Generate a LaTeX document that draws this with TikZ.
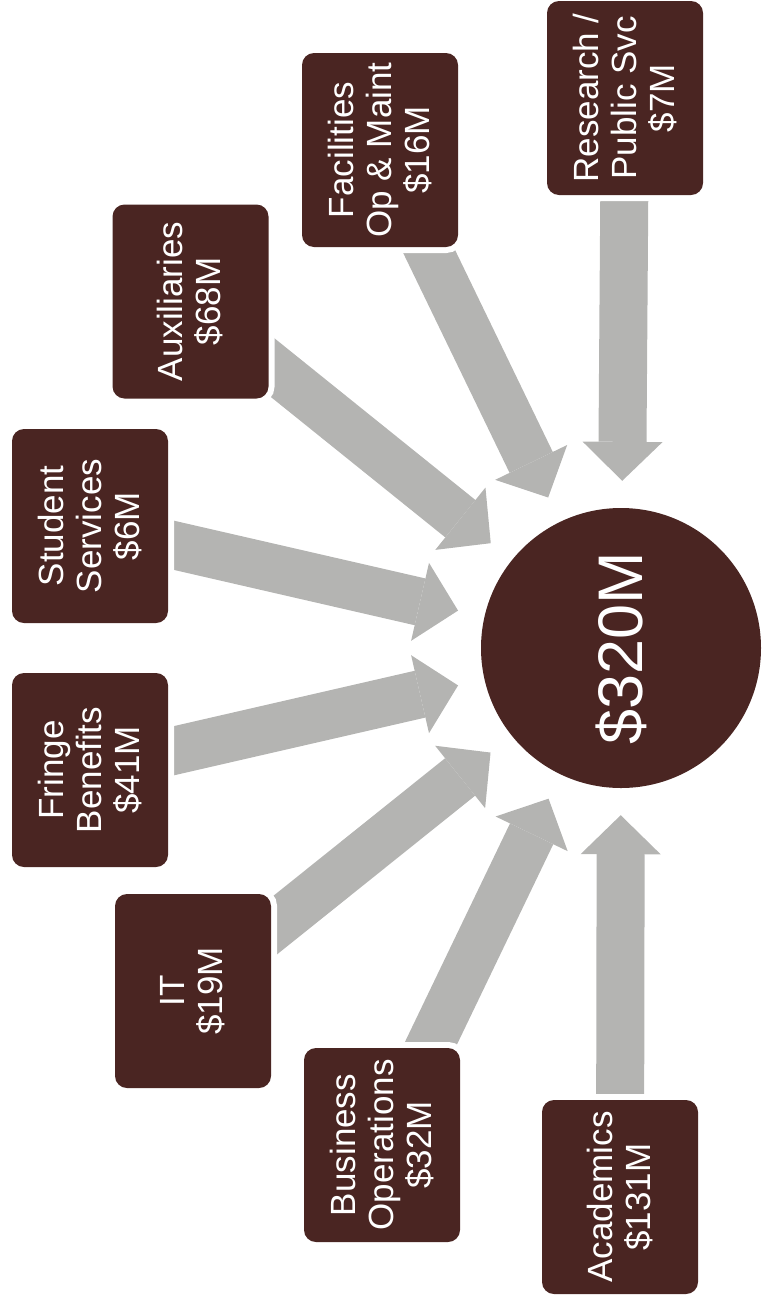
\documentclass[tikz,border=0pt]{standalone}
\usepackage{fontspec}
\setmainfont{Liberation Sans}
\usetikzlibrary{arrows.meta,backgrounds}
\definecolor{boxbrown}{RGB}{74,37,34}
\definecolor{arrowgray}{RGB}{180,180,178}
\begin{document}
\begin{tikzpicture}[x=1pt,y=-1pt,
  budget/.style={rotate=90, rectangle, rounded corners=12pt, fill=boxbrown,
    preaction={draw=white, line width=12pt},
    minimum width=194pt, minimum height=156pt, inner sep=0pt,
    text=white, align=center, font=\fontsize{35}{38}\selectfont},
  total/.style={rotate=90, circle, fill=boxbrown, minimum size=280pt, inner sep=0pt,
    text=white, font=\fontsize{63}{70}\selectfont},
  flow/.style={draw=arrowgray, line width=48pt, line cap=butt, shorten >=27pt,
    -{Triangle[width=80pt,length=39pt,line width=0pt]}}
]
\useasboundingbox (0,0) rectangle (762,1304);

\node[total] (circ) at (621,648) {\$320M};

\node[budget] (res) at (625,98)    {Research /\\Public Svc\\\$7M};
\node[budget] (fac) at (380,150)   {Facilities\\Op \& Maint\\\$16M};
\node[budget] (aux) at (190.5,301.5) {Auxiliaries\\\$68M};
\node[budget] (stu) at (90,526)    {Student\\Services\\\$6M};
\node[budget] (fri) at (90,770)    {Fringe\\Benefits\\\$41M};
\node[budget] (it)  at (193,991)   {IT\\\$19M};
\node[budget] (bus) at (382,1145)  {Business\\Operations\\\$32M};
\node[budget] (aca) at (620,1197)  {Academics\\\$131M};

\begin{scope}[on background layer]
  \foreach \src in {res,fac,aux,stu,fri,it,bus,aca}
    \draw[flow] (\src.center) -- (circ);
\end{scope}
\end{tikzpicture}
\end{document}
